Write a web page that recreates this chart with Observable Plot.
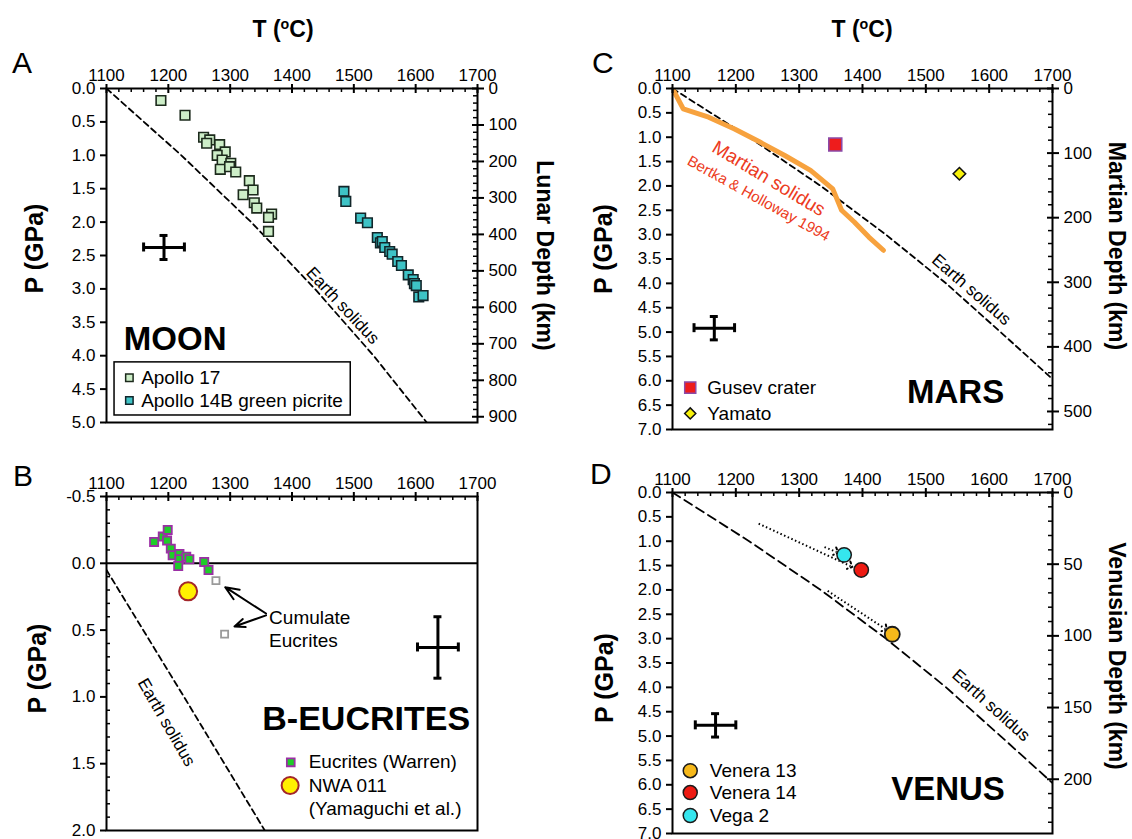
<!DOCTYPE html>
<html><head><meta charset="utf-8">
<script src="https://cdn.jsdelivr.net/npm/d3@7"></script>
<script src="https://cdn.jsdelivr.net/npm/@observablehq/plot@0.6"></script>
<style>
body{margin:0;background:#fff;}
#root{position:relative;width:1132px;height:839px;overflow:hidden;font-family:"Liberation Sans",Arial,sans-serif;color:#000;}
.panel{position:absolute;}
.lbl{position:absolute;font-size:30px;line-height:1;}
.ttl{position:absolute;font-size:23px;font-weight:bold;transform:translateX(-50%);white-space:nowrap;line-height:1;}
.ttl sup{font-size:0.62em;vertical-align:0.55em;line-height:0;}
</style></head><body><div id="root"></div>
<script>
// ---------- tick labels ----------
const tempTicks = [1100, 1200, 1300, 1400, 1500, 1600, 1700];
const moonPTicks = [0, 0.5, 1, 1.5, 2, 2.5, 3, 3.5, 4, 4.5, 5];
const eucPTicks = [-0.5, 0, 0.5, 1, 1.5, 2];
const planetPTicks = [0, 0.5, 1, 1.5, 2, 2.5, 3, 3.5, 4, 4.5, 5, 5.5, 6, 6.5, 7];
const moonDepthTicks = [0, 100, 200, 300, 400, 500, 600, 700, 800, 900];
const marsDepthTicks = [0, 100, 200, 300, 400, 500];
const venusDepthTicks = [0, 50, 100, 150, 200];
const MOON_GPA_PER_KM = 0.00546;
const MARS_GPA_PER_KM = 0.01326;
const VENUS_GPA_PER_KM = 0.02943;

// ---------- Earth solidus ----------
const solidusT = [1100, 1221, 1334, 1437, 1532, 1618, 1703];
const solidusP = [0, 1, 2, 3, 4, 5, 6];
const eucSolidusT = [1100, 1228, 1356];
const eucSolidusP = [0.05, 1.02, 2.0];

// ---------- A: Moon ----------
const apollo17T = [1188, 1227, 1257, 1267, 1262, 1283, 1292, 1279, 1287, 1301, 1284, 1299, 1309, 1331, 1337, 1321, 1339, 1343, 1367, 1362, 1362];
const apollo17P = [0.18, 0.40, 0.73, 0.77, 0.82, 0.84, 0.95, 1.00, 1.07, 1.12, 1.21, 1.17, 1.25, 1.38, 1.52, 1.59, 1.71, 1.79, 1.88, 1.93, 2.14];
const apollo14T = [1484, 1487, 1511, 1522, 1538, 1543, 1546, 1550, 1558, 1562, 1571, 1577, 1588, 1596, 1598, 1601, 1605, 1612];
const apollo14P = [1.54, 1.69, 1.94, 2.01, 2.23, 2.31, 2.29, 2.38, 2.44, 2.48, 2.59, 2.65, 2.79, 2.86, 2.92, 2.95, 3.12, 3.10];
const moonErr = {T: 1193, dT: 33, P: 2.38, dP: 0.18};

// ---------- B: Eucrites ----------
const eucT = [1177, 1191, 1199, 1198, 1204, 1207, 1218, 1218, 1216, 1229, 1234, 1258, 1265];
const eucP = [-0.16, -0.20, -0.25, -0.17, -0.11, -0.06, -0.07, -0.03, 0.02, -0.05, -0.03, -0.01, 0.05];
const cumT = [1277, 1291];
const cumP = [0.13, 0.53];
const nwaT = [1232];
const nwaP = [0.21];
const cumArrowFromT = [1358, 1358];
const cumArrowFromP = [0.376, 0.39];
const cumArrowToT = [1292, 1307];
const cumArrowToP = [0.179, 0.473];
const eucErr = {T: 1636, dT: 33, P: 0.63, dP: 0.23};

// ---------- C: Mars ----------
const gusevT = [1357], gusevP = [1.15];
const yamatoT = [1553], yamatoP = [1.75];
const marsSolidusT = [1100, 1117, 1157, 1198, 1238, 1278, 1318, 1353, 1367, 1387, 1410, 1433];
const marsSolidusP = [0.0, 0.42, 0.59, 0.83, 1.10, 1.38, 1.68, 2.06, 2.50, 2.74, 3.05, 3.32];
const marsErr = {T: 1166, dT: 32, P: 4.92, dP: 0.24};

// ---------- D: Venus ----------
const venera13T = [1447], venera13P = [2.91];
const venera14T = [1398], venera14P = [1.59];
const vega2T = [1371], vega2P = [1.28];
const venusArrowFromT = [1236, 1340, 1345];
const venusArrowFromP = [0.64, 1.12, 2.02];
const venusArrowToT = [1381, 1359, 1436];
const venusArrowToP = [1.51, 1.22, 2.80];
const venusErr = {T: 1168, dT: 32, P: 4.78, dP: 0.24};

// ---------- helpers ----------
const zip = (T, P) => T.map((t, i) => ({T: t, P: P[i]}));
const FONT = '"Liberation Sans", Arial, Helvetica, sans-serif';
const tempMinor = d3.range(1100, 1701, 20).filter(d => d % 100 !== 0);

function axes({innerW, innerH, pTicks, pMinor, depthTicks, depthMinor, gpaPerKm, pTitleDx, pTitleDy, dTitle, dTitleDx, dTitleDy}) {
  const m = [
    Plot.axisX(tempTicks, {anchor: "top", label: null, tickSize: 5, tickPadding: 3, strokeWidth: 2, tickFormat: d => String(d)}),
    Plot.tickX(tempTicks, {x: d => d, insetBottom: innerH - 5, strokeWidth: 2}),
    Plot.tickX(tempMinor, {x: d => d, insetBottom: innerH - 4, strokeWidth: 1.5}),
    Plot.axisY(pTicks, {anchor: "left", label: null, tickSize: 6, tickPadding: 5, strokeWidth: 2, tickFormat: d => d.toFixed(1)}),
    Plot.text(["P (GPa)"], {text: d => d, frameAnchor: "left", textAnchor: "middle", lineAnchor: "middle", dx: pTitleDx, dy: pTitleDy, rotate: -90, fontSize: 25, fontWeight: "bold"})
  ];
  if (pMinor) m.push(Plot.tickY(pMinor, {y: d => d, insetRight: innerW - 4, strokeWidth: 1.5}));
  if (depthTicks) {
    const maj = depthTicks.map(k => k * gpaPerKm);
    m.push(
      Plot.axisY(maj, {anchor: "right", label: null, tickSize: 6, tickPadding: 5, strokeWidth: 2, tickFormat: d => String(Math.round(d / gpaPerKm))}),
      Plot.tickY(maj, {y: d => d, insetLeft: innerW - 5, strokeWidth: 2}),
      Plot.tickY(depthMinor.map(k => k * gpaPerKm), {y: d => d, insetLeft: innerW - 4, strokeWidth: 1.5}),
      Plot.text([dTitle], {text: d => d, frameAnchor: "right", textAnchor: "middle", lineAnchor: "middle", dx: dTitleDx, dy: dTitleDy, rotate: 90, fontSize: 23, fontWeight: "bold"})
    );
  }
  m.push(Plot.frame({strokeWidth: 2}));
  return m;
}

function errCross(e, pxT, pxP) {
  const capT = 4 / pxT, capP = 4.5 / pxP;
  return [
    Plot.ruleY([e], {y: "P", x1: d => d.T - d.dT, x2: d => d.T + d.dT, strokeWidth: 3}),
    Plot.ruleX([e], {x: "T", y1: d => d.P - d.dP, y2: d => d.P + d.dP, strokeWidth: 3}),
    Plot.ruleX([e.T - e.dT, e.T + e.dT], {x: d => d, y1: e.P - capP, y2: e.P + capP, strokeWidth: 3}),
    Plot.ruleY([e.P - e.dP, e.P + e.dP], {y: d => d, x1: e.T - capT, x2: e.T + capT, strokeWidth: 3})
  ];
}

function makePlot(w, h, ml, mr, mt, mb, yDomain, marks) {
  return Plot.plot({
    width: w, height: h, marginLeft: ml, marginRight: mr, marginTop: mt, marginBottom: mb,
    x: {domain: [1100, 1700], axis: null, label: null},
    y: {domain: yDomain, reverse: true, axis: null, label: null},
    style: {fontFamily: FONT, fontSize: "17px", color: "black", background: "transparent", overflow: "visible"},
    marks
  });
}

const root = document.getElementById("root");
function place(node, left, top) {
  const d = document.createElement("div");
  d.className = "panel"; d.style.left = left + "px"; d.style.top = top + "px";
  d.appendChild(node); root.appendChild(d);
}
function html(cls, content, left, top) {
  const d = document.createElement("div");
  d.className = cls; d.innerHTML = content;
  d.style.left = left + "px"; d.style.top = top + "px";
  root.appendChild(d);
}

const solidus = zip(solidusT, solidusP);
const dash = {strokeDasharray: "6,4", strokeWidth: 1.8, clip: true};

// ---------- Panel A ----------
{
  const W = 566, H = 440, ml = 106, mr = 89, mt = 88, mb = 18;
  const iw = W - ml - mr, ih = H - mt - mb;
  const legT = [1137, 1137], legP = [4.33, 4.67];
  const p = makePlot(W, H, ml, mr, mt, mb, [0, 5], [
    Plot.line(solidus, {x: "T", y: "P", ...dash}),
    Plot.text(["Earth solidus"], {x: 1482, y: 3.25, text: d => d, rotate: 47, fontSize: 17}),
    Plot.dot(zip(apollo17T, apollo17P), {x: "T", y: "P", symbol: "square", r: 5.4, fill: "#cdeec8", stroke: "#1c2a1c", strokeWidth: 1.6}),
    Plot.dot(zip(apollo14T, apollo14P), {x: "T", y: "P", symbol: "square", r: 5.4, fill: "#3ec3c6", stroke: "#12262a", strokeWidth: 1.6}),
    ...errCross(moonErr, iw / 600, ih / 5),
    Plot.text(["MOON"], {x: 1211, y: 3.75, text: d => d, fontSize: 33, fontWeight: "bold"}),
    Plot.rect([0], {x1: 1113, x2: 1495, y1: 4.10, y2: 4.895, fill: "white", stroke: "black", strokeWidth: 1.5}),
    Plot.dot([0], {x: legT[0], y: legP[0], symbol: "square", r: 4.2, fill: "#cdeec8", stroke: "#1c2a1c", strokeWidth: 1.5}),
    Plot.dot([0], {x: legT[1], y: legP[1], symbol: "square", r: 4.2, fill: "#3ec3c6", stroke: "#12262a", strokeWidth: 1.5}),
    Plot.text(["Apollo 17", "Apollo 14B green picrite"], {x: 1156, y: (d, i) => legP[i], text: d => d, textAnchor: "start", fontSize: 19}),
    ...axes({innerW: iw, innerH: ih, pTicks: moonPTicks, depthTicks: moonDepthTicks, depthMinor: d3.range(20, 915, 20).filter(k => k % 100), gpaPerKm: MOON_GPA_PER_KM,
      pTitleDx: -72, pTitleDy: -7, dTitle: "Lunar Depth (km)", dTitleDx: 67, dTitleDy: 0})
  ]);
  place(p, 0, 0);
}

// ---------- Panel B ----------
{
  const W = 566, H = 399, ml = 106, mr = 89, mt = 56, mb = 9;
  const iw = W - ml - mr, ih = H - mt - mb;
  const p = makePlot(W, H, ml, mr, mt, mb, [-0.5, 2.0], [
    Plot.ruleY([0], {strokeWidth: 2}),
    Plot.line(zip(eucSolidusT, eucSolidusP), {x: "T", y: "P", ...dash}),
    Plot.text(["Earth solidus"], {x: 1197, y: 1.19, text: d => d, rotate: 60, fontSize: 17}),
    Plot.arrow(cumArrowFromT.map((t, i) => i), {x1: i => cumArrowFromT[i], y1: i => cumArrowFromP[i], x2: i => cumArrowToT[i], y2: i => cumArrowToP[i], strokeWidth: 2, headLength: 11, headAngle: 45}),
    Plot.dot(zip(cumT, cumP), {x: "T", y: "P", symbol: "square", r: 4, fill: "white", stroke: "#9a9a9a", strokeWidth: 1.8}),
    Plot.dot(zip(eucT, eucP), {x: "T", y: "P", symbol: "square", r: 4.6, fill: "#1fcc2a", stroke: "#9b2fa5", strokeWidth: 1.8}),
    Plot.dot(zip(nwaT, nwaP), {x: "T", y: "P", r: 9, fill: "#fff000", stroke: "#a3262a", strokeWidth: 2}),
    Plot.text(["Cumulate", "Eucrites"], {x: 1363, y: (d, i) => [0.405, 0.58][i], text: d => d, textAnchor: "start", fontSize: 19}),
    ...errCross(eucErr, iw / 600, ih / 2.5),
    Plot.text(["B-EUCRITES"], {x: 1520, y: 1.165, text: d => d, fontSize: 34, fontWeight: "bold"}),
    Plot.dot([0], {x: 1398, y: 1.49, symbol: "square", r: 4.4, fill: "#1fcc2a", stroke: "#9b2fa5", strokeWidth: 1.8}),
    Plot.dot([0], {x: 1397, y: 1.663, r: 8.5, fill: "#fff000", stroke: "#a3262a", strokeWidth: 2}),
    Plot.text(["Eucrites (Warren)", "NWA 011", "(Yamaguchi et al.)"], {x: 1427, y: (d, i) => [1.49, 1.663, 1.835][i], text: d => d, textAnchor: "start", fontSize: 19}),
    ...axes({innerW: iw, innerH: ih, pTicks: eucPTicks, pMinor: d3.range(-0.4, 2.0, 0.1).filter(v => Math.abs(v * 2 - Math.round(v * 2)) > 0.01),
      pTitleDx: -69, pTitleDy: 5})
  ]);
  place(p, 0, 440);
}

// ---------- Panel C ----------
{
  const W = 566, H = 440, ml = 106, mr = 80, mt = 88, mb = 11;
  const iw = W - ml - mr, ih = H - mt - mb;
  const p = makePlot(W, H, ml, mr, mt, mb, [0, 7], [
    Plot.line(solidus, {x: "T", y: "P", ...dash}),
    Plot.text(["Earth solidus"], {x: 1572, y: 4.13, text: d => d, rotate: 41, fontSize: 17}),
    Plot.line(zip(marsSolidusT, marsSolidusP), {x: "T", y: "P", stroke: "#f7a23e", strokeWidth: 5, strokeLinejoin: "round", clip: true}),
    Plot.text(["Martian solidus"], {x: 1252, y: 1.85, text: d => d, rotate: 31, fontSize: 19, fill: "#ec3b22"}),
    Plot.text(["Bertka & Holloway 1994"], {x: 1236, y: 2.26, text: d => d, rotate: 29, fontSize: 15, fill: "#ec3b22"}),
    Plot.dot(zip(gusevT, gusevP), {x: "T", y: "P", symbol: "square", r: 7.3, fill: "#ee1c1c", stroke: "#8a4aa8", strokeWidth: 1.6}),
    Plot.dot(zip(yamatoT, yamatoP), {x: "T", y: "P", symbol: "diamond2", r: 5.6, fill: "#f8f20a", stroke: "#111", strokeWidth: 1.6}),
    ...errCross(marsErr, iw / 600, ih / 7),
    Plot.text(["MARS"], {x: 1547, y: 6.23, text: d => d, fontSize: 33, fontWeight: "bold"}),
    Plot.dot([0], {x: 1128, y: 6.14, symbol: "square", r: 6.3, fill: "#ee1c1c", stroke: "#8a4aa8", strokeWidth: 1.4}),
    Plot.dot([0], {x: 1128, y: 6.67, symbol: "diamond2", r: 5, fill: "#f8f20a", stroke: "#111", strokeWidth: 1.5}),
    Plot.text(["Gusev crater", "Yamato"], {x: 1155, y: (d, i) => [6.14, 6.67][i], text: d => d, textAnchor: "start", fontSize: 19}),
    ...axes({innerW: iw, innerH: ih, pTicks: planetPTicks, depthTicks: marsDepthTicks, depthMinor: d3.range(20, 528, 20).filter(k => k % 100), gpaPerKm: MARS_GPA_PER_KM,
      pTitleDx: -69, pTitleDy: -10, dTitle: "Martian Depth (km)", dTitleDx: 64, dTitleDy: -13})
  ]);
  place(p, 566, 0);
}

// ---------- Panel D ----------
{
  const W = 566, H = 399, ml = 106, mr = 80, mt = 52, mb = 6;
  const iw = W - ml - mr, ih = H - mt - mb;
  const legP = [5.71, 6.16, 6.63];
  const p = makePlot(W, H, ml, mr, mt, mb, [0, 7], [
    Plot.line(solidus, {x: "T", y: "P", ...dash, strokeDasharray: "9,5"}),
    Plot.text(["Earth solidus"], {x: 1603, y: 4.37, text: d => d, rotate: 42, fontSize: 17}),
    Plot.link(venusArrowFromT.map((t, i) => i), {x1: i => venusArrowFromT[i], y1: i => venusArrowFromP[i], x2: i => venusArrowToT[i], y2: i => venusArrowToP[i], strokeWidth: 2, strokeDasharray: "1.5,2.5", markerEnd: "arrow"}),
    Plot.dot(zip(vega2T, vega2P), {x: "T", y: "P", r: 7.2, fill: "#35e6ee", stroke: "#1a1a1a", strokeWidth: 1.5}),
    Plot.dot(zip(venera14T, venera14P), {x: "T", y: "P", r: 7.2, fill: "#ee1a12", stroke: "#1a1a1a", strokeWidth: 1.5}),
    Plot.dot(zip(venera13T, venera13P), {x: "T", y: "P", r: 7.5, fill: "#f6b81a", stroke: "#1a1a1a", strokeWidth: 1.8}),
    ...errCross(venusErr, iw / 600, ih / 7),
    Plot.text(["VENUS"], {x: 1535, y: 6.09, text: d => d, fontSize: 33, fontWeight: "bold"}),
    Plot.dot(["#f6b81a", "#ee1a12", "#35e6ee"], {x: 1128, y: (d, i) => legP[i], r: 7, fill: d => d, stroke: "#1a1a1a", strokeWidth: 1.5}),
    Plot.text(["Venera 13", "Venera 14", "Vega 2"], {x: 1159, y: (d, i) => legP[i], text: d => d, textAnchor: "start", fontSize: 19}),
    ...axes({innerW: iw, innerH: ih, pTicks: planetPTicks, depthTicks: venusDepthTicks, depthMinor: d3.range(10, 238, 10).filter(k => k % 50), gpaPerKm: VENUS_GPA_PER_KM,
      pTitleDx: -68, pTitleDy: 15, dTitle: "Venusian Depth (km)", dTitleDx: 64, dTitleDy: -7})
  ]);
  place(p, 566, 440);
}

// ---------- panel letters and top titles ----------
html("lbl", "A", 12, 48);
html("lbl", "B", 13, 461);
html("lbl", "C", 592, 48);
html("lbl", "D", 590, 459);
html("ttl", "T (<sup>o</sup>C)", 283, 18);
html("ttl", "T (<sup>o</sup>C)", 862, 18);
</script>
</body></html>
